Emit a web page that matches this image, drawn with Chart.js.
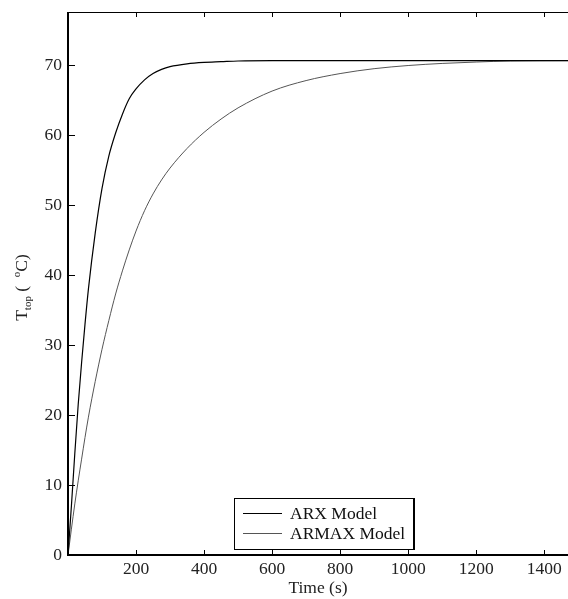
<!DOCTYPE html>
<html>
<head>
<meta charset="utf-8">
<script src="https://cdn.jsdelivr.net/npm/chart.js@4.4.1/dist/chart.umd.min.js"></script>
<style>
  body { margin: 0; background: #fff; }
  #wrap { width: 568px; height: 599px; }
</style>
</head>
<body>
<div id="wrap"><canvas id="step-chart" width="568" height="599"></canvas></div>
<script>
// step response of the two identified models (time in s, temperature in °C)
const times = [0, 10, 20, 30, 40, 50, 60, 80, 100, 120, 140, 160, 180, 200, 225, 250, 275, 300,
               350, 400, 450, 500, 600, 700, 800, 900, 1000, 1100, 1200, 1300, 1470];
const arxTemp = [0, 7, 14.5, 21.5, 27.5, 33, 38, 46, 52.4, 57, 60.3, 63, 65.2, 66.6, 67.9, 68.8, 69.4, 69.8,
                 70.2, 70.4, 70.5, 70.6, 70.65, 70.65, 70.65, 70.65, 70.65, 70.65, 70.65, 70.65, 70.65];
const armaxTemp = [0, 3.7, 7.3, 10.6, 13.7, 16.8, 19.7, 24.8, 29.4, 33.5, 37.3, 40.6, 43.6, 46.3, 49.2, 51.6, 53.6, 55.3,
                   58.1, 60.4, 62.3, 63.9, 66.3, 67.8, 68.8, 69.5, 69.95, 70.25, 70.45, 70.6, 70.65];
const seriesNames = ['ARX Model', 'ARMAX Model'];
const xTicks = [200, 400, 600, 800, 1000, 1200, 1400];
const yTicks = [0, 10, 20, 30, 40, 50, 60, 70];

const serif = 'Liberation Serif';
const pts = vals => times.map((t, i) => ({ x: t, y: vals[i] }));

// frame: thick left/bottom axes, thin top edge, inward ticks on left, bottom and top
const framePlugin = {
  id: 'frame',
  afterDatasetsDraw(chart) {
    const { ctx, chartArea: a, scales: { x, y } } = chart;
    ctx.save();
    ctx.strokeStyle = '#000';
    ctx.lineWidth = 1;
    ctx.beginPath();
    ctx.moveTo(a.left, a.top + 0.5);
    ctx.lineTo(a.right, a.top + 0.5);
    ctx.stroke();
    ctx.lineWidth = 2;
    ctx.beginPath();
    ctx.moveTo(a.left, a.top);
    ctx.lineTo(a.left, a.bottom);
    ctx.lineTo(a.right, a.bottom);
    ctx.stroke();
    ctx.lineWidth = 1;
    ctx.beginPath();
    xTicks.forEach(v => {
      const px = Math.round(x.getPixelForValue(v)) + 0.5;
      ctx.moveTo(px, a.bottom);
      ctx.lineTo(px, a.bottom - 5);
      ctx.moveTo(px, a.top);
      ctx.lineTo(px, a.top + 5);
    });
    yTicks.forEach(v => {
      const py = Math.round(y.getPixelForValue(v)) + 0.5;
      ctx.moveTo(a.left, py);
      ctx.lineTo(a.left + 7, py);
    });
    ctx.stroke();
    ctx.restore();
  }
};

// y-axis title with subscript and superscript
const yTitlePlugin = {
  id: 'yTitle',
  afterDraw(chart) {
    const { ctx, chartArea: a } = chart;
    const parts = [
      { t: 'T', size: 17.5, dy: 0 },
      { t: 'top', size: 11, dy: 4 },
      { t: ' (  ', size: 17.5, dy: 0 },
      { t: 'o', size: 11, dy: -7 },
      { t: 'C)', size: 17.5, dy: 0 }
    ];
    ctx.save();
    let total = 0;
    parts.forEach(p => {
      ctx.font = p.size + 'px "' + serif + '"';
      p.w = ctx.measureText(p.t).width;
      total += p.w;
    });
    ctx.translate(27, (a.top + a.bottom) / 2 + 4);
    ctx.rotate(-Math.PI / 2);
    ctx.fillStyle = '#222';
    ctx.textBaseline = 'alphabetic';
    let cx = -total / 2;
    parts.forEach(p => {
      ctx.font = p.size + 'px "' + serif + '"';
      ctx.fillText(p.t, cx, p.dy);
      cx += p.w;
    });
    ctx.restore();
  }
};

// boxed legend inside the lower part of the plot
const legendPlugin = {
  id: 'boxLegend',
  afterDraw(chart) {
    const { ctx, chartArea: a } = chart;
    const left = a.left + 166, bottom = a.bottom - 6;
    const w = 179, h = 51, top = bottom - h;
    ctx.save();
    ctx.fillStyle = '#fff';
    ctx.fillRect(left, top, w, h);
    ctx.strokeStyle = '#000';
    ctx.lineWidth = 1;
    ctx.strokeRect(left + 0.5, top + 0.5, w, h);
    ctx.lineWidth = 2;
    ctx.beginPath();
    ctx.moveTo(left + w + 1, top);
    ctx.lineTo(left + w + 1, bottom + 1);
    ctx.stroke();
    ctx.font = '17.5px "' + serif + '"';
    ctx.textBaseline = 'middle';
    ctx.fillStyle = '#111';
    chart.data.datasets.forEach((ds, i) => {
      const ly = top + 15.5 + i * 20;
      ctx.strokeStyle = ds.borderColor;
      ctx.lineWidth = ds.borderWidth;
      ctx.beginPath();
      ctx.moveTo(left + 9, ly);
      ctx.lineTo(left + 48, ly);
      ctx.stroke();
      ctx.fillText(ds.label, left + 56, ly + 1);
    });
    ctx.restore();
  }
};

new Chart(document.getElementById('step-chart'), {
  type: 'line',
  data: {
    datasets: [
      {
        label: seriesNames[0],
        data: pts(arxTemp),
        borderColor: '#000',
        borderWidth: 1.2,
        pointRadius: 0,
        cubicInterpolationMode: 'monotone'
      },
      {
        label: seriesNames[1],
        data: pts(armaxTemp),
        borderColor: '#555',
        borderWidth: 1,
        pointRadius: 0,
        cubicInterpolationMode: 'monotone'
      }
    ]
  },
  options: {
    responsive: false,
    animation: false,
    layout: { padding: { top: 12, right: 0, bottom: 0, left: 0 } },
    plugins: {
      legend: { display: false },
      tooltip: { enabled: false }
    },
    scales: {
      x: {
        type: 'linear',
        min: 0,
        max: 1470,
        afterBuildTicks: s => { s.ticks = xTicks.map(v => ({ value: v })); },
        afterFit: s => { s.height = 44; s.paddingLeft = 0; s.paddingRight = 0; },
        grid: { display: false, drawTicks: false },
        border: { display: false },
        ticks: { font: { family: serif, size: 17.5 }, color: '#222', padding: 4, maxRotation: 0, callback: v => String(v) },
        title: {
          display: true,
          text: 'Time (s)',
          font: { family: serif, size: 17.5 },
          color: '#222',
          padding: { top: 0, bottom: 0 }
        }
      },
      y: {
        type: 'linear',
        min: 0,
        max: 77.6,
        afterBuildTicks: s => { s.ticks = yTicks.map(v => ({ value: v })); },
        afterFit: s => { s.width = 68; s.paddingTop = 0; s.paddingBottom = 0; },
        grid: { display: false, drawTicks: false },
        border: { display: false },
        ticks: { font: { family: serif, size: 17.5 }, color: '#222', padding: 6, callback: v => String(v) }
      }
    }
  },
  plugins: [framePlugin, yTitlePlugin, legendPlugin]
});
</script>
</body>
</html>
